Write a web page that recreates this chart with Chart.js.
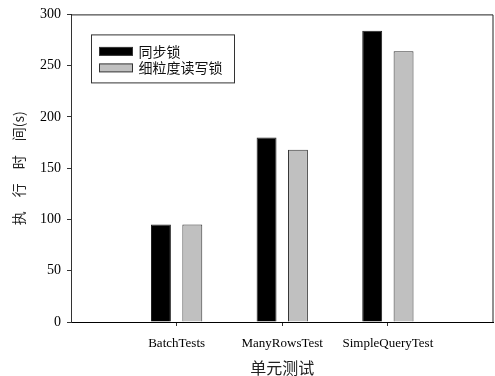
<!DOCTYPE html>
<html>
<head>
<meta charset="utf-8">
<script src="https://cdn.jsdelivr.net/npm/chart.js@4"></script>
<style>
  html, body { margin: 0; padding: 0; background: #fff; }
  #wrap { width: 495px; height: 376px; }
</style>
</head>
<body>
<div id="wrap"><canvas id="c" width="495" height="376"></canvas></div>
<script>
// Unit test categories and execution times (seconds)
const categories = ['BatchTests', 'ManyRowsTest', 'SimpleQueryTest'];
const syncLock = [95, 180, 284];
const fineRwLock = [95, 168, 264];
const seriesNames = ['同步锁', '细粒度读写锁'];
const yTicks = [0, 50, 100, 150, 200, 250, 300];

// Empty slots at both ends keep the groups at 1/4, 2/4 and 3/4 of the axis
const labels = [''].concat(categories, ['']);
const pad = arr => [null].concat(arr, [null]);

const serif = 'Liberation Serif, Times New Roman, serif';
const cjk = '"Noto Sans CJK SC", "Noto Sans", sans-serif';

// Boxed legend placed inside the plot, plus the plot frame
const framePlugin = {
  id: 'frame',
  afterDraw(chart) {
    const ctx = chart.ctx;
    const a = chart.chartArea;
    ctx.save();
    ctx.strokeStyle = '#222';
    ctx.lineWidth = 1;
    ctx.beginPath();
    ctx.moveTo(a.left, a.top + 0.5);
    ctx.lineTo(a.right - 0.5, a.top + 0.5);
    ctx.lineTo(a.right - 0.5, a.bottom);
    ctx.stroke();

    const bx = a.left + 20.5, by = a.top + 20.5, bw = 143, bh = 48;
    ctx.fillStyle = '#fff';
    ctx.fillRect(bx, by, bw, bh);
    ctx.strokeStyle = '#333';
    ctx.strokeRect(bx, by, bw, bh);
    ctx.font = '14px ' + cjk;
    ctx.textBaseline = 'middle';
    chart.data.datasets.forEach((ds, i) => {
      const sy = by + 12.5 + i * 16.5;
      ctx.fillStyle = ds.backgroundColor;
      ctx.fillRect(bx + 8, sy, 33, 8);
      ctx.strokeStyle = '#333';
      ctx.strokeRect(bx + 8, sy, 33, 8);
      ctx.fillStyle = '#111';
      ctx.fillText(ds.label, bx + 47, sy + 4);
    });
    ctx.restore();
  }
};

new Chart(document.getElementById('c'), {
  type: 'bar',
  data: {
    labels: labels,
    datasets: [
      { label: seriesNames[0], data: pad(syncLock), backgroundColor: '#000000', borderColor: '#222', borderWidth: 1 },
      { label: seriesNames[1], data: pad(fineRwLock), backgroundColor: '#c0c0c0', borderColor: '#333', borderWidth: 1 }
    ]
  },
  options: {
    responsive: false,
    animation: false,
    layout: { padding: { top: 14, right: 1.5, left: 0, bottom: 0 } },
    categoryPercentage: 0.594,
    barPercentage: 0.635,
    plugins: { legend: { display: false }, tooltip: { enabled: false } },
    scales: {
      x: {
        offset: false,
        afterFit(s) { s.height = 54; s.paddingLeft = 0; s.paddingRight = 0; },
        grid: {
          offset: false,
          drawOnChartArea: false,
          drawTicks: true,
          tickLength: 4,
          tickColor: c => (c.index === 0 || c.index === labels.length - 1) ? 'rgba(0,0,0,0)' : '#333'
        },
        border: { color: '#000', width: 1 },
        ticks: { color: '#000', font: { family: serif, size: 13 }, padding: 10, maxRotation: 0, autoSkip: false },
        title: { display: true, text: '单元测试', color: '#222', font: { family: cjk, size: 16, lineHeight: 1 }, padding: { top: 0, bottom: 0 } }
      },
      y: {
        min: 0,
        max: 300,
        afterFit(s) { s.width = 71; },
        afterBuildTicks(s) { s.ticks = yTicks.map(v => ({ value: v })); },
        grid: { drawOnChartArea: false, drawTicks: true, tickLength: 4, tickColor: '#333' },
        border: { color: '#333', width: 1 },
        ticks: { color: '#000', font: { family: serif, size: 14 }, padding: 6 },
        title: { display: true, text: '执　行　时　间(s)', color: '#222', font: { family: cjk, size: 14, lineHeight: 1 }, padding: { top: 12, bottom: 0 } }
      }
    }
  },
  plugins: [framePlugin]
});
</script>
</body>
</html>
